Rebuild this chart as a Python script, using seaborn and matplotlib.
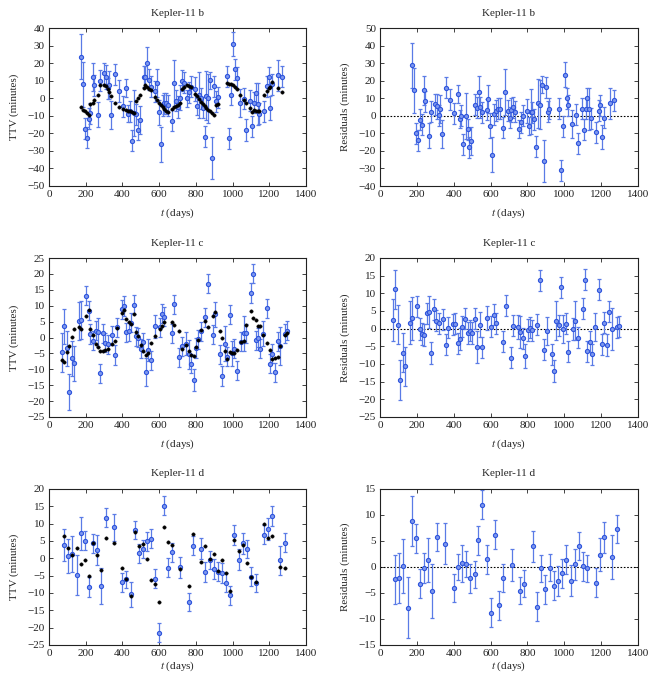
import numpy as np
import pandas as pd
import matplotlib
matplotlib.use("Agg")
import matplotlib.pyplot as plt
import seaborn as sns

# ---------------- Kepler-11 b ----------------
b_t = [172, 185, 194, 205, 216, 226, 237, 246, 266, 277, 299, 310, 319, 328, 339, 359, 380, 402, 422, 433,
       442, 453, 464, 475, 484, 495, 516, 525, 536, 545, 556, 578, 587, 598, 609, 620, 629, 639, 650, 670,
       681, 692, 703, 712, 723, 734, 754, 764, 775, 795, 806, 817, 826, 837, 848, 857, 868, 879, 888, 899,
       909, 918, 971, 982, 991, 1002, 1013, 1022, 1043, 1063, 1074, 1094, 1105, 1116, 1125, 1136, 1145, 1172,
       1187, 1196, 1205, 1216, 1246, 1268]
b_resid = [28.7, 14.4, -10, -14, -2.3, -5, 14.4, 8.3, -11.3, 2.4, 6.6, 5.3, 0.2, 4.1, -10.3, 16.1, 9.1, 1.5, 12.5, -1.8,
           0, -16.2, 0, -7.6, -18, -14.6, 6.2, 4.7, 13.5, 4.9, 2, 3.4, 9.7, -5.6, -22.3, 0.9, 3, 4.1, 4, -6.7,
           13.5, 3, -1, 3.4, 4.9, 2.2, -7.6, -3.7, 0, 2.8, -5.7, 2.4, 2, -2, -17.5, 7, 6.4, 17.7, -25.7, 16.3,
           2.2, 4, 4, -31, -6, 23.5, 9.9, 6, -4.8, 0.6, -15.6, 4, -8, 4, 9.9, 4, -1.3, -9.5,
           2.8, 6, -12, -1, 7, 8.8]
b_model = [-5, -6.5, -7.5, -8.5, -9.5, -3.5, -2.5, -1, 2, 7.5, 7.5, 6.8, 5.5, 3.5, 1, -2.5, -5, -6, -6.6, -7,
           -7.5, -8, -8.5, -1.5, 0, 2, 6, 7.5, 6.5, 5.5, 4.5, 0.5, -1, -2.5, -4, -5, -6, -7, -8, -6,
           -5, -4.5, -4, -3, 5, 6.5, 7.5, 7, 6.5, 2.5, 1, -0.5, -2, -3.5, -4.5, -5.5, -6.5, -7.5, -8.5, -9.5,
           -4, -3.5, 8.5, 8.2, 8, 7.5, 6.5, 5.5, 2, -1, -2.5, -5.5, -8, -6.5, -7, -7.5, -7.5, 2,
           4, 6, 6.5, 9, 6, 3.5]
b_err = [13, 13, 6, 6, 6, 6, 8, 6, 7, 6, 6, 7, 6, 8, 8, 6, 6, 6, 5, 5,
         6, 6, 13, 6, 6, 8, 6, 6, 9, 6, 6, 6, 8, 7, 10, 6, 6, 6, 6, 6,
         13, 6, 6, 7, 6, 6, 5, 6, 6, 7, 5, 13, 6, 6, 6, 14, 14, 5, 12, 6,
         6, 6, 6, 6, 6, 7, 6, 6, 8, 6, 6, 6, 6, 6, 6, 12, 6, 6,
         6, 6, 7, 6, 9, 6]

# ---------------- Kepler-11 c ----------------
c_t = [71, 83, 96, 110, 123, 136, 163, 176, 201, 216, 226, 239, 254, 266, 279, 292, 306, 319, 344, 357,
       370, 395, 408, 422, 435, 447, 462, 475, 487, 500, 513, 527, 540, 553, 578, 603, 616, 629, 670, 683,
       710, 723, 748, 761, 774, 788, 801, 813, 826, 851, 866, 891, 904, 931, 944, 957, 969, 984, 995, 1007,
       1022, 1047, 1060, 1072, 1100, 1112, 1125, 1138, 1150, 1165, 1190, 1205, 1217, 1232, 1245, 1257, 1284, 1297]
c_resid = [2.5, 11.1, 1.1, -14.6, -6.8, -10.7, 1.7, 2.9, 6.3, -0.1, -1.5, -1.8, 4.4, 4.7, -6.9, 5.5, 2.2, 1.5, 2.6, -4.5,
           0.3, 1.2, 1.4, -4.1, -2.9, 0.5, 2.8, -1.2, -0.6, -1.2, 2.8, -5.3, 1.1, -5.3, 3, 0.6, 3.9, 1.5, -3.7, 6.5,
           -8.2, 0.8, 0.5, -1, -2.7, -7.7, -0.4, 0.3, -0.5, 1.1, 13.7, -6, -0.6, -7.3, -12, 2.3, 0.9, 11.7, 0, 1.4,
           -6.5, -0.1, 2.3, -2.6, 5.6, 13.9, -6.4, -3.7, -7.3, 0.4, 11, -4.4, 1.7, -4.6, 4.8, -0.1, 0.4, 0.7]
c_model = [-7.2, -7.6, -4.5, -2.6, 0.3, 2.6, 3.4, 2.6, 6.8, 8.5, 2.6, 0.8, -2.2, -3.1, -4.3, -4.2, -3.9, -3.7, -1.9, -1,
           2.9, 7.7, 8.5, 5.7, 4.8, 4.2, 7.5, 1.6, 0.5, -2.4, -4.3, -5.5, -5, -1.8, 0.5, 2.6, 3.6, 5, 5, 3.9,
           2, -3.6, -2.4, -4.3, -5.5, -5.7, -2.9, -0.8, 2.4, 5.2, 3.2, 6.9, 7.9, 2, -0.1, -4.3, -6.9, -4.5, -5, -5,
           -3.9, -1.3, -1, 4, 8.4, 6.1, 5.5, 3.7, 3.7, 0.8, -1.8, -3.9, -6.8, -6.4, -6, -2.6, 0.8, 1.5]
c_err = [6, 5.5, 5.5, 5.7, 5.5, 5.5, 6, 6, 3, 3, 3, 3, 3, 4.5, 3, 3, 3, 3, 3, 3,
         3, 3, 3, 3, 3, 3, 3, 3, 3, 3, 3, 4.5, 3.5, 3, 3.5, 3, 3, 3, 3, 3,
         3, 3, 3.5, 4.5, 3, 3.5, 3, 3, 3, 3, 3, 3, 4, 3, 3, 5.5, 3, 3, 4, 3,
         3, 3, 5.5, 3, 3, 3, 3, 3, 3, 4, 3, 3, 3, 3, 3, 6, 3, 3]

# ---------------- Kepler-11 d ----------------
d_t = [82, 105, 127, 150, 172, 194, 217, 239, 263, 284, 308, 353, 399, 422, 444, 467, 489, 513, 534, 556,
       580, 601, 625, 647, 670, 716, 761, 784, 828, 851, 875, 897, 920, 942, 966, 987, 1009, 1034, 1056, 1080,
       1101, 1125, 1170, 1192, 1216, 1259, 1284]
d_resid = [-2.4, -2.2, 0.2, -7.8, 8.8, 5.5, -3.2, -0.2, 1.4, -4.6, 5.8, 4.5, -4.1, 0, 0.7, 0.6, -2.2, -1.4, 5.1, 12,
           1.5, -8.8, 6.2, -7.4, -2.2, 0.4, -4.6, -3.2, 4, -7.6, -0.2, -4.3, -0.1, -3.6, -2.7, -1.2, 1.4, -2.6, 0.5, 4,
           0.1, -0.2, -3, 2.4, 5.7, 1.9, 7.3]
d_model = [6.3, 2.9, 1, 3, -1.6, -0.4, -5.1, 4.5, 1, -3.5, 5.9, 4.4, -2.8, -6.1, -11, 7.6, 3.6, 4.1, -0.2, -6.3,
           -7.4, -12.6, 9, 4.7, 3.9, -3, -8, 6.9, -1.2, 3.7, -0.2, 1.2, -3.7, -0.6, -4.3, -9.5, 5.3, 2.2, 3.8, -1.3,
           -5.4, -6.8, 9.8, 6, 6.5, -2.5, -2.8]
d_err = [4.7, 4.8, 5.2, 5.8, 4.8, 2.8, 2.8, 2.8, 4.2, 5.2, 2.7, 4, 2.7, 2.5, 3.6, 2.5, 2.8, 2.6, 2.7, 2.8,
         2.8, 2.8, 2.8, 2.8, 2.7, 3.1, 2.6, 2.6, 3, 2.8, 2.6, 2.8, 2.6, 2.8, 2.8, 2.8, 2.8, 3, 3, 2.7,
         2.7, 2.6, 2.8, 3.2, 3, 4.3, 2.7]

planets = [
    ("Kepler-11 b", b_t, b_resid, b_model, b_err, (-50, 40, 10), (-40, 50, 10)),
    ("Kepler-11 c", c_t, c_resid, c_model, c_err, (-25, 25, 5), (-25, 20, 5)),
    ("Kepler-11 d", d_t, d_resid, d_model, d_err, (-25, 20, 5), (-15, 15, 5)),
]

sns.set_theme(style="ticks")
plt.rcParams["font.family"] = ["Liberation Serif", "DejaVu Serif"]
plt.rcParams["mathtext.fontset"] = "stix"
plt.rcParams["font.size"] = 8

BLUE_EDGE = "#2f55dc"
BLUE_FACE = "#7d97ee"
BLUE_ERR = "#5a7be6"

fig = plt.figure(figsize=(6.55, 6.79), dpi=100)
W, H = 655.0, 679.0
rows = [(28, 186), (258, 417), (489, 645)]
cols = [(49, 306), (380, 638)]


def style_axis(ax, ylim, xpad):
    ax.set_xlim(0, 1400)
    ax.set_xticks(np.arange(0, 1401, 200))
    ax.set_ylim(ylim[0], ylim[1])
    ax.set_yticks(np.arange(ylim[0], ylim[1] + 0.1, ylim[2]))
    ax.tick_params(direction="in", top=True, right=True, length=3, width=0.6,
                   labelsize=8, pad=3, colors="#222222")
    for s in ax.spines.values():
        s.set_linewidth(0.8)
        s.set_color("#222222")
        s.set_visible(True)
    ax.set_xlabel("$t$ (days)", fontsize=8, labelpad=xpad)


for r, (name, t, resid, model, err, ylim_ttv, ylim_res) in enumerate(planets):
    t = np.array(t, float)
    resid = np.array(resid, float)
    model = np.array(model, float)
    err = np.array(err, float)
    ttv = model + resid
    df = pd.DataFrame({"t": t, "ttv": ttv, "model": model, "resid": resid, "err": err})
    top, bot = rows[r]
    xpad = 5 if r < 2 else 1
    for c, (left, right) in enumerate(cols):
        ax = fig.add_axes([left / W, 1 - bot / H, (right - left) / W, (bot - top) / H])
        if c == 0:
            yv = "ttv"
            ax.errorbar(df["t"], df[yv], yerr=df["err"], fmt="none", ecolor=BLUE_ERR,
                        elinewidth=0.9, capsize=1.5, capthick=0.9, zorder=2)
            sns.scatterplot(data=df, x="t", y=yv, ax=ax, marker="o", s=9,
                            color=BLUE_FACE, edgecolor=BLUE_EDGE, linewidth=0.8, zorder=3)
            sns.scatterplot(data=df, x="t", y="model", ax=ax, marker="o", s=6,
                            color="black", edgecolor="black", linewidth=0.3, zorder=4)
            style_axis(ax, ylim_ttv, xpad)
            ax.set_ylabel("TTV (minutes)", fontsize=8, labelpad=6)
        else:
            yv = "resid"
            ax.axhline(0, color="black", lw=0.8, ls=(0, (1.5, 1.5)), zorder=1)
            ax.errorbar(df["t"], df[yv], yerr=df["err"], fmt="none", ecolor=BLUE_ERR,
                        elinewidth=0.9, capsize=1.5, capthick=0.9, zorder=2)
            sns.scatterplot(data=df, x="t", y=yv, ax=ax, marker="o", s=9,
                            color=BLUE_FACE, edgecolor=BLUE_EDGE, linewidth=0.8, zorder=3)
            style_axis(ax, ylim_res, xpad)
            ax.set_ylabel("Residuals (minutes)", fontsize=8, labelpad=6)
        ax.set_title(name, fontsize=8, pad=9)

fig.savefig("out.png", dpi=100)
